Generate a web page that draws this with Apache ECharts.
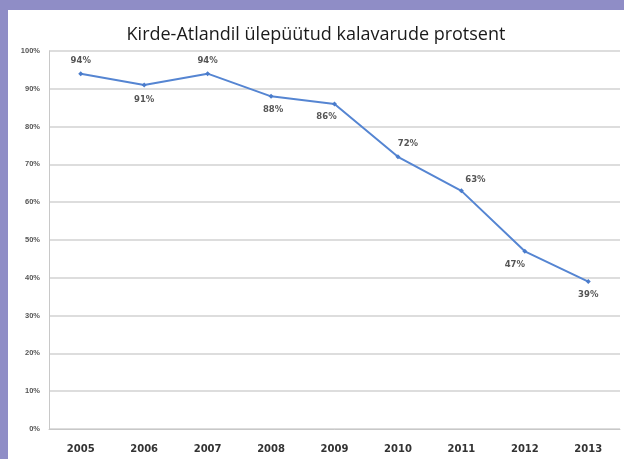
<!DOCTYPE html>
<html>
<head>
<meta charset="utf-8">
<script src="https://cdn.jsdelivr.net/npm/echarts@6/dist/echarts.min.js"></script>
<style>
  html, body { margin: 0; padding: 0; width: 624px; height: 459px; background: #8f8dc6; overflow: hidden; }
  #chart { position: absolute; left: 8px; top: 10px; width: 616px; height: 449px; background: #fff; }
</style>
</head>
<body>
<div id="chart"></div>
<script>
var years = ['2005', '2006', '2007', '2008', '2009', '2010', '2011', '2012', '2013'];
var overfished = [94, 91, 94, 88, 86, 72, 63, 47, 39];
var yTicks = [0, 10, 20, 30, 40, 50, 60, 70, 80, 90, 100];

// label placement per point, like in the original figure
var labelPos = ['top', 'bottom', 'top', 'bottom', 'bottom', 'top', 'top', 'bottom', 'bottom'];
var labelOffset = [[0, 0], [0, 2], [0, 0], [2, 0], [-8, 0], [10, 0], [14, 2], [-10, 0], [0, 0]];

var chart = echarts.init(document.getElementById('chart'));

chart.setOption({
  animation: false,
  title: {
    text: 'Kirde-Atlandil ülepüütud kalavarude protsent',
    left: 'center',
    top: 11,
    textStyle: { fontFamily: 'Open Sans', fontSize: 18, fontWeight: 'normal', color: '#1a1a1a' }
  },
  grid: { left: 41, right: 4, top: 41, bottom: 30 },
  xAxis: {
    type: 'category',
    data: years,
    boundaryGap: true,
    axisLine: { lineStyle: { color: '#c8c8c8' } },
    axisTick: { show: false },
    axisLabel: { color: '#333', fontSize: 10, fontWeight: 'bold', fontFamily: 'DejaVu Sans', margin: 15 }
  },
  yAxis: {
    type: 'value',
    min: yTicks[0],
    max: yTicks[yTicks.length - 1],
    interval: 10,
    axisLine: { show: true, lineStyle: { color: '#c8c8c8' } },
    axisTick: { show: false },
    splitLine: { lineStyle: { color: '#d2d2d2', width: 1.5 } },
    axisLabel: { formatter: '{value}%', color: '#555', fontSize: 7.5, fontWeight: 'bold', margin: 9 }
  },
  series: [{
    type: 'line',
    data: overfished.map(function (v, i) {
      return { value: v, label: { position: labelPos[i], offset: labelOffset[i] } };
    }),
    symbol: 'diamond',
    symbolSize: 5,
    itemStyle: { color: '#4a7ccc' },
    lineStyle: { color: '#5585d2', width: 2 },
    label: {
      show: true,
      formatter: '{c}%',
      distance: 6,
      color: '#555',
      fontSize: 8.5,
      fontWeight: 'bold',
      fontFamily: 'DejaVu Sans'
    }
  }]
});
</script>
</body>
</html>
